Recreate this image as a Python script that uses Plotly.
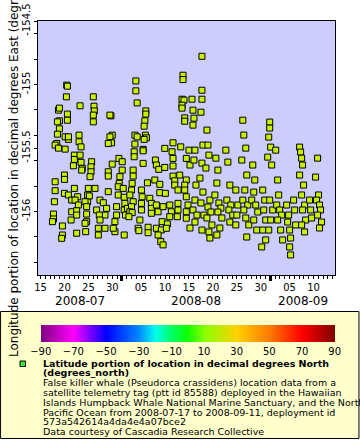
import plotly.graph_objects as go
import pandas as pd

# ---------------- data ----------------
# time of each fix, in days since 2008-07-01 00:00 UTC
t_days = [
    19.47, 19.62, 19.41, 17.75, 17.95, 22.26, 25.03, 25.17, 25.24, 25.03, 25.03, 28.71, 28.50,
    33.91, 33.91, 34.18, 35.99, 35.99, 35.79, 35.64, 43.76, 43.76, 43.55, 43.96, 43.55, 43.55,
    44.11, 44.11, 19.62, 19.62, 17.95, 17.54, 17.95, 17.54, 19.14, 19.83, 19.83, 22.05, 22.05,
    22.47, 17.39, 17.06, 17.75, 19.14, 28.98, 28.50, 28.84, 28.15, 33.71, 34.18, 35.91, 36.12,
    35.64, 33.71, 35.43, 39.95, 41.67, 43.28,
    21.07, 21.07, 20.87, 22.26, 22.47, 22.74, 22.60, 24.67, 24.55, 24.55, 24.34, 28.98, 28.15,
    28.15, 30.38, 31.06, 31.06, 30.58, 30.44, 33.56, 33.56, 33.35, 33.35, 33.14, 35.43, 35.43,
    37.99, 38.20, 38.70, 39.95, 41.47, 41.67, 41.67, 41.67, 42.03, 43.07, 44.44, 44.44,
    17.06, 17.06, 16.91, 19.00, 19.00, 19.00, 19.83, 20.51, 21.07, 21.76, 21.22, 21.91, 23.99,
    25.38, 23.84, 23.84, 24.20, 23.30, 23.63, 20.51, 21.55, 21.55, 16.71, 16.71, 16.50, 20.39,
    18.58, 23.63, 23.63, 23.30, 21.55, 23.43, 18.58, 18.43, 26.42, 27.11, 25.71, 27.80, 27.46,
    26.28, 26.42, 26.07, 27.46, 26.07, 28.15, 29.88, 29.88, 29.54, 29.54, 29.19, 30.23, 30.23,
    31.27, 31.48, 31.62, 31.48, 32.17, 31.75, 31.48, 33.00, 32.66, 33.35, 33.00, 32.66, 33.14,
    32.46, 35.08, 35.22, 35.08, 35.08, 34.75, 34.39, 34.54, 36.33, 36.83, 37.16, 37.16, 37.16,
    36.47, 36.47, 37.87, 38.91, 38.91, 40.07, 38.20, 38.55, 38.20, 39.24, 38.55, 39.59, 39.39,
    40.49, 40.28, 39.11, 39.59, 40.99, 41.32, 40.99, 42.03, 42.71, 42.71, 42.71, 42.57, 44.11,
    44.11, 44.44, 44.44, 44.44,
    45.00, 45.21, 44.80, 45.21,
    45.63, 45.84, 46.04, 45.84, 46.25, 46.04, 46.46, 46.25, 45.84, 46.67, 46.25,
    47.71, 47.71, 47.71, 47.50, 47.92, 47.71, 47.29, 47.92, 47.50, 48.12, 47.71,
    48.75, 48.96, 49.17, 48.54, 49.37, 48.96, 49.58, 48.75, 49.79, 49.17, 49.37,
    50.62, 51.04, 50.83, 50.41, 51.25, 51.66, 51.04, 51.87, 51.45, 50.83,
    52.70, 53.12, 53.54, 52.91, 53.74, 53.33, 54.16, 53.54,
    54.78, 55.20, 54.99, 54.78,
    56.24, 56.45, 56.86, 56.03, 57.07, 56.66, 56.24, 57.28, 56.45, 56.86, 57.49, 57.07,
    58.32, 58.74, 58.53, 58.11, 58.94, 59.36, 58.53, 59.15,
    60.40, 60.19, 60.82, 60.61, 61.02, 60.40, 61.02,
    61.86, 61.86, 61.65, 62.06, 61.44, 62.27, 61.86, 62.48, 62.06, 61.65,
    63.11, 63.52, 63.73, 63.32, 63.94, 64.35, 63.52, 64.15, 64.56,
    65.39, 65.81, 65.60, 66.02, 66.22, 66.02, 66.22,
    66.85, 67.06, 67.27,
    68.10, 68.31, 68.52, 68.72, 68.10, 68.93, 68.52, 69.14, 68.72, 69.35, 68.52, 69.14,
    70.18, 70.39, 70.60,
    71.43, 71.85, 72.05, 71.64, 72.26, 72.47, 71.85, 72.68, 72.26,
]
# longitude of each fix, degrees East
lon = [
    -155.005, -155.013, -155.097, -155.202, -155.186, -155.168, -155.097, -155.171, -155.208,
    -155.241, -155.294, -155.247, -155.241, -154.972, -155.050, -155.145, -155.208, -155.233,
    -155.286, -155.328, -154.927, -154.961, -155.116, -155.123, -155.163, -155.186, -155.263,
    -155.289, -155.233, -155.281, -155.286, -155.294, -155.349, -155.391, -155.412, -155.432,
    -155.412, -155.399, -155.451, -155.491, -155.464, -155.477, -155.501, -155.509, -155.399,
    -155.412, -155.459, -155.464, -155.399, -155.412, -155.399, -155.420, -155.432, -155.469,
    -155.511, -155.503, -155.459, -155.491,
    -155.556, -155.590, -155.640, -155.556, -155.613, -155.660, -155.674, -155.608, -155.648,
    -155.687, -155.726, -155.627, -155.687, -155.721, -155.582, -155.608, -155.674, -155.726,
    -155.778, -155.530, -155.569, -155.674, -155.721, -155.778, -155.522, -155.621, -155.595,
    -155.634, -155.668, -155.653, -155.530, -155.582, -155.642, -155.721, -155.758, -155.713,
    -155.582, -155.752,
    -155.766, -155.836, -155.923, -155.713, -155.747, -155.857, -155.870, -155.910, -155.818,
    -155.884, -155.910, -155.949, -155.818, -155.818, -155.870, -155.923, -155.877, -155.923,
    -155.962, -156.002, -155.994, -156.028, -156.020, -156.059, -156.080, -156.067, -156.114,
    -156.020, -156.080, -156.093, -156.171, -156.159, -156.185, -156.211, -155.910, -155.931,
    -155.988, -155.975, -156.028, -156.028, -156.067, -156.132, -156.132, -156.185, -155.844,
    -155.962, -156.028, -156.080, -156.159, -156.132, -155.805, -155.870, -155.818, -155.888,
    -155.936, -155.988, -155.975, -156.028, -156.185, -155.831, -155.870, -155.923, -155.962,
    -156.002, -156.009, -156.041, -155.831, -155.884, -155.936, -155.988, -156.067, -156.132,
    -156.151, -155.774, -155.896, -155.936, -155.975, -156.014, -156.124, -156.167, -155.752,
    -155.786, -155.852, -155.857, -155.949, -156.002, -156.132, -156.145, -156.185, -155.962,
    -156.080, -156.098, -156.132, -156.237, -156.263, -155.949, -156.002, -156.041, -155.792,
    -155.831, -155.936, -155.988, -156.041, -155.792, -155.831, -155.884, -156.002, -156.053,
    -155.517, -155.634, -155.949, -156.130,
    -155.116, -155.202, -155.265, -155.320, -155.517, -155.595, -155.792, -155.910, -155.988,
    -156.028, -156.083,
    -154.778, -155.045, -155.116, -155.218, -155.477, -155.619, -155.737, -155.847, -155.933,
    -156.028, -156.146,
    -155.359, -155.477, -155.556, -155.658, -155.910, -155.965, -156.004, -156.051, -156.106,
    -156.161, -156.209,
    -155.580, -155.674, -155.776, -155.870, -155.933, -155.973, -156.004, -156.051, -156.130,
    -156.185,
    -155.517, -155.611, -155.792, -155.910, -155.949, -155.988, -156.028, -156.083,
    -155.831, -155.949, -156.028, -156.106,
    -155.281, -155.398, -155.501, -155.595, -155.713, -155.831, -155.910, -155.949, -155.988,
    -156.051, -156.106, -156.201,
    -155.634, -155.752, -155.847, -155.910, -155.949, -156.004, -156.067, -156.146,
    -155.831, -156.279, -155.910, -155.988, -156.067, -156.146, -156.224,
    -155.296, -155.343, -155.414, -155.493, -155.572, -155.634, -155.910, -155.988, -156.067,
    -156.146,
    -155.517, -155.752, -155.870, -155.949, -155.988, -156.028, -156.067, -156.146, -156.224,
    -155.949, -156.028, -156.083, -156.146, -156.209, -156.279, -156.342,
    -155.910, -155.988, -156.106,
    -155.493, -155.532, -155.580, -155.634, -155.713, -155.792, -155.870, -155.949, -155.988,
    -156.067, -156.106, -156.161,
    -155.910, -155.988, -156.051,
    -155.729, -155.580, -155.870, -155.910, -155.949, -155.988, -156.028, -156.083, -156.130,
]

x_tick_dates = ["2008-07-15", "2008-07-20", "2008-07-25", "2008-07-30", "2008-08-05",
                "2008-08-10", "2008-08-15", "2008-08-20", "2008-08-25", "2008-08-30",
                "2008-09-05", "2008-09-10"]
x_tick_text = ["15", "20", "25", "30", "05", "10", "15", "20", "25", "30", "05", "10"]
month_starts = ["2008-07-01", "2008-08-01", "2008-09-01", "2008-10-01"]
month_labels = ["2008-07", "2008-08", "2008-09"]
y_tick_vals = [-156.0, -155.5, -155.0, -154.5]
y_tick_text = ["-156", "-155.5", "-155", "-154.5"]
cbar_ticks = [-90, -70, -50, -30, -10, 10, 30, 50, 70, 90]

legend_title = ["Latitude portion of location in decimal degrees North", "(degrees_north)"]
legend_lines = [
    "False killer whale (Pseudorca crassidens) location data from a",
    "satellite telemetry tag (ptt id 85588) deployed in the Hawaiian",
    "Islands Humpback Whale National Marine Sanctuary, and the North",
    "Pacific Ocean from 2008-07-17 to 2008-09-11, deployment id",
    "573a542614a4da4e4a07bce2",
    "Data courtesy of Cascadia Research Collective",
]

# ---------------- layout helpers ----------------
W, H = 360, 440
L, R, T, B = 38, 335.5, 21, 275
FONT = "DejaVu Sans"
x_range = [pd.Timestamp("2008-07-14 11:30"), pd.Timestamp("2008-09-14 11:45")]


def px_x(p):
    return (p - L) / (R - L)


def px_y(p):
    return (B - p) / (B - T)


times = pd.Timestamp("2008-07-01") + pd.to_timedelta(t_days, unit="D")

rainbow = [
    [0.0, "#800080"], [0.111, "#ff00ff"], [0.222, "#0000ff"], [0.333, "#0088ff"],
    [0.39, "#00ffee"], [0.444, "#00ff66"], [0.5, "#11ff00"], [0.556, "#88ff00"],
    [0.667, "#ffd000"], [0.778, "#ff7a00"], [0.889, "#ff0000"], [1.0, "#800000"],
]

fig = go.Figure()
fig.add_trace(go.Scatter(
    x=times, y=lon, mode="markers", showlegend=False,
    marker=dict(symbol="square", size=6, color="#c8f000",
                line=dict(color="black", width=1)),
))
# colour scale key (no marks plotted)
fig.add_trace(go.Scatter(
    x=[None], y=[None], mode="markers", showlegend=False, hoverinfo="skip",
    marker=dict(color=cbar_ticks, colorscale=rainbow, cmin=-90, cmax=90, showscale=True,
                colorbar=dict(orientation="h", thicknessmode="pixels", thickness=17,
                              lenmode="pixels", len=294, x=px_x(40.7), xanchor="left",
                              y=px_y(325), yanchor="top", xpad=0, ypad=0,
                              outlinewidth=0, tickvals=cbar_ticks, ticks="",
                              tickfont=dict(family=FONT, size=10, color="black"))),
))
# month-boundary ticks
fig.add_trace(go.Scatter(x=[], y=[], xaxis="x2", showlegend=False))

ms = pd.to_datetime(month_starts)
annotations = []
for i, lab in enumerate(month_labels):
    lo = max(ms[i], x_range[0])
    hi = min(ms[i + 1], x_range[1])
    annotations.append(dict(x=lo + (hi - lo) / 2, y=px_y(301), xref="x", yref="paper",
                            text=lab, showarrow=False, xanchor="center", yanchor="middle",
                            font=dict(family=FONT, size=12, color="black")))

annotations.append(dict(
    x=px_x(14), y=px_y(150), xref="paper", yref="paper", textangle=-90,
    text="Longitude portion of location in decimal degrees East (degrees_east)",
    showarrow=False, xanchor="center", yanchor="middle",
    font=dict(family=FONT, size=12, color="black")))

line_y = [363.3, 372.3, 382.3, 392.3, 402.0, 412.0, 421.7, 431.0]
for i, txt in enumerate(legend_title + legend_lines):
    bold = i < len(legend_title)
    annotations.append(dict(
        x=px_x(42.5), y=px_y(line_y[i]), xref="paper", yref="paper",
        text=f"<b>{txt}</b>" if bold else txt, showarrow=False,
        xanchor="left", yanchor="middle", borderpad=0,
        font=dict(family=FONT, size=9.5, color="black")))

shapes = [
    dict(type="rect", xref="paper", yref="paper", x0=px_x(0.5), x1=px_x(359.5),
         y0=px_y(438.5), y1=px_y(311.5), fillcolor="#ffffcc",
         line=dict(color="black", width=1), layer="below"),
    dict(type="rect", xref="paper", yref="paper", x0=px_x(20), x1=px_x(25.5),
         y0=px_y(366.5), y1=px_y(361), fillcolor="#33ee33",
         line=dict(color="black", width=1)),
]

fig.update_layout(
    width=W, height=H, margin=dict(l=L, r=W - R, t=T, b=H - B, autoexpand=False),
    paper_bgcolor="white", plot_bgcolor="#ccccff",
    font=dict(family=FONT, size=10, color="black"),
    annotations=annotations, shapes=shapes, showlegend=False,
    xaxis=dict(type="date", range=x_range, tickvals=x_tick_dates, ticktext=x_tick_text,
               ticks="outside", ticklen=3, tickcolor="black", showgrid=False,
               showline=True, mirror=True, linecolor="black", linewidth=1,
               zeroline=False, tickfont=dict(family=FONT, size=10),
               minor=dict(dtick=86400000, ticks="outside", ticklen=3, tickcolor="black",
                          showgrid=False)),
    xaxis2=dict(type="date", overlaying="x", matches="x", anchor="y", side="bottom",
                tickvals=month_starts, showticklabels=False, ticks="outside", ticklen=5,
                tickwidth=3, tickcolor="black", showgrid=False, showline=False,
                zeroline=False),
    yaxis=dict(range=[-156.5, -154.5], tickvals=y_tick_vals, ticktext=y_tick_text,
               tickangle=-90, ticks="outside", ticklen=3, tickcolor="black",
               showgrid=False, showline=True, mirror=True, linecolor="black",
               linewidth=1, zeroline=False, tickfont=dict(family=FONT, size=10),
               minor=dict(dtick=0.2, tick0=-156, ticks="outside", ticklen=3,
                          tickcolor="black", showgrid=False)),
)

fig.write_html("out.html", config={"displayModeBar": False},
               post_script="document.body.style.margin='0';"
                           "document.body.style.overflow='hidden';")
